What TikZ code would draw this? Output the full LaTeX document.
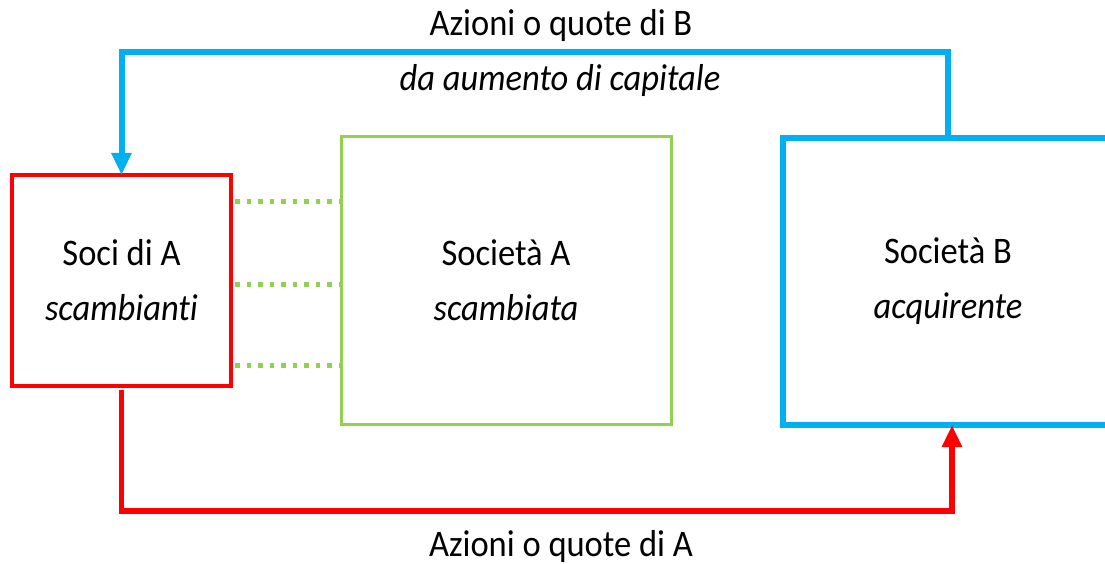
\documentclass[tikz,border=0pt]{standalone}
\usepackage{fontspec}
\setmainfont{Carlito}[FakeStretch=0.92, Ligatures={NoCommon}]
\usetikzlibrary{arrows.meta,calc}
\definecolor{cred}{HTML}{FF0000}
\definecolor{cblue}{HTML}{00B0F0}
\definecolor{cgreen}{HTML}{92D050}
\begin{document}
\begin{tikzpicture}[x=1pt,y=-1pt,
  font=\fontsize{37.5}{55}\selectfont,
  box/.style={draw, align=center, inner sep=0pt, outer sep=0pt},
  redbox/.style={box, cred, line width=4pt, text=black, minimum width=219pt, minimum height=211pt},
  greenbox/.style={box, cgreen, line width=3pt, text=black, minimum width=330pt, minimum height=287pt},
  bluebox/.style={box, cblue, line width=6pt, text=black, minimum width=330pt, minimum height=287pt},
  redarrow/.style={cred, line width=5.5pt, -{Triangle[width=19pt,length=22pt]}},
  bluearrow/.style={cblue, line width=6pt, -{Triangle[width=19pt,length=22pt]}},
  dotline/.style={cgreen, line width=5pt, dash pattern=on 4.7pt off 6.8pt},
  lbl/.style={anchor=base, inner sep=0pt}]
\clip (0,0) rectangle (1105,564);
\fill[white] (0,0) rectangle (1105,564);
\node[redbox] (soci) at (121.5,280.5) {Soci di A\\\textit{scambianti}};
\node[greenbox] (socA) at (506,280.5) {Società A\\\textit{scambiata}};
\node[bluebox] (socB) at (948,281.5) {Società B\\\textit{acquirente}};
\coordinate (topc) at (535,52);
\coordinate (botc) at (535,511);
\draw[bluearrow] (socB.north) |- (topc) -| (soci.north);
\draw[redarrow] ([yshift=-4pt]soci.south) |- (botc) -| ([xshift=4pt]socB.south);
\foreach \dy in {78.5,-3.5,-84.5}
  \draw[dotline] ([xshift=4pt,yshift=\dy pt]soci.east) -- ([yshift=\dy pt]soci.east -| socA.west);
\node[lbl] (ltop) at (561,36) {Azioni o quote di B};
\node[lbl] (lsub) at (560,91) {\textit{da aumento di capitale}};
\node[lbl] (lbot) at (561,556) {Azioni o quote di A};
\end{tikzpicture}
\end{document}
